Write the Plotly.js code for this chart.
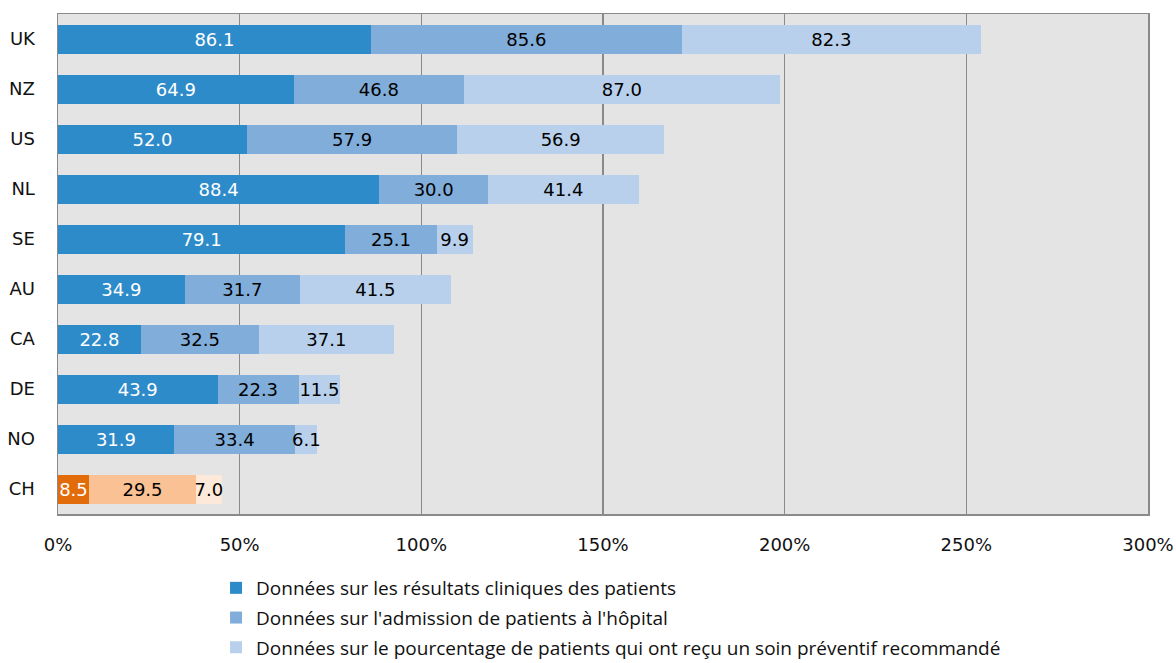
<!DOCTYPE html>
<html>
<head>
<meta charset="utf-8">
<script src="https://cdn.plot.ly/plotly-3.0.1.min.js"></script>
<style>html,body{margin:0;padding:0;background:#fff;}#chart{width:1176px;height:663px;}</style>
</head>
<body>
<div id="chart"></div>
<script>
const countries = ["UK","NZ","US","NL","SE","AU","CA","DE","NO","CH"];
const clinicalResults = [86.1, 64.9, 52.0, 88.4, 79.1, 34.9, 22.8, 43.9, 31.9, 8.5];
const hospitalAdmission = [85.6, 46.8, 57.9, 30.0, 25.1, 31.7, 32.5, 22.3, 33.4, 29.5];
const preventiveCare = [82.3, 87.0, 56.9, 41.4, 9.9, 41.5, 37.1, 11.5, 6.1, 7.0];
const seriesNames = [
  "Données sur les résultats cliniques des patients",
  "Données sur l'admission de patients à l'hôpital",
  "Données sur le pourcentage de patients qui ont reçu un soin préventif recommandé"
];
const xTickVals = [0, 50, 100, 150, 200, 250, 300];
const xTickText = ["0%", "50%", "100%", "150%", "200%", "250%", "300%"];

const blues = ["#2E8BC9", "#80ADD9", "#B8D0EB"];
const oranges = ["#E36C0A", "#F9C194", "#FDE9D9"];
const textColors = ["#ffffff", "#000000", "#000000"];
const highlight = "CH";
const mainFont = "DejaVu Sans, sans-serif";

const allSeries = [clinicalResults, hospitalAdmission, preventiveCare];
const traces = allSeries.map((vals, i) => ({
  type: "bar",
  orientation: "h",
  name: seriesNames[i],
  y: countries,
  x: vals,
  text: vals.map(v => v.toFixed(1)),
  textposition: "inside",
  insidetextanchor: "middle",
  textangle: 0,
  constraintext: "none",
  cliponaxis: false,
  textfont: {family: mainFont, size: 18, color: textColors[i]},
  marker: {color: countries.map(c => c === highlight ? oranges[i] : blues[i]), line: {width: 0}},
  legendgroup: "g" + i,
  hoverinfo: "x+y+name"
}));

const layout = {
  width: 1176, height: 663,
  barmode: "stack",
  bargap: 0.42,
  paper_bgcolor: "#ffffff",
  plot_bgcolor: "#E4E4E4",
  margin: {l: 58, r: 28, t: 14, b: 149, autoexpand: false},
  font: {family: mainFont, size: 18, color: "#111"},
  uniformtext: {mode: "show", minsize: 18},
  xaxis: {
    range: [0, 300], tickvals: xTickVals, ticktext: xTickText,
    showgrid: true, gridcolor: "#8A8A8A", gridwidth: 1.3,
    showline: true, linecolor: "#8A8A8A", linewidth: 1.5, mirror: true,
    zeroline: false, ticks: "", ticklabelstandoff: 14,
    tickfont: {family: mainFont, size: 18}
  },
  yaxis: {
    autorange: "reversed", showgrid: false, zeroline: false,
    showline: true, linecolor: "#8A8A8A", linewidth: 1.5, mirror: true,
    ticks: "", ticklabelstandoff: 18, tickfont: {family: mainFont, size: 18}
  },
  showlegend: true,
  legend: {
    orientation: "v",
    x: 0.145, xanchor: "left", y: -0.11, yanchor: "top",
    traceorder: "grouped", tracegroupgap: 2,
    font: {family: "Open Sans, sans-serif", size: 19, color: "#111"},
    itemwidth: 30, bgcolor: "rgba(0,0,0,0)"
  }
};

Plotly.newPlot("chart", traces, layout, {displayModeBar: false, staticPlot: true});
</script>
</body>
</html>
